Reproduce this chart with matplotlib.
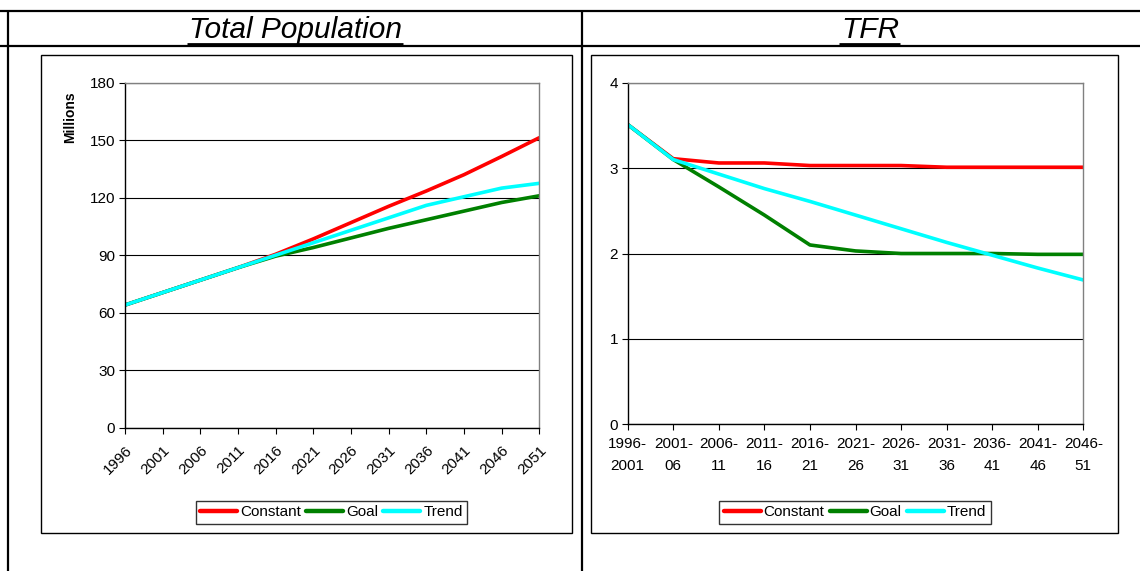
import numpy as np
import matplotlib
matplotlib.use("Agg")
import matplotlib.pyplot as plt
from matplotlib.lines import Line2D
from matplotlib.patches import Rectangle

plt.rcParams['font.family'] = ['Liberation Sans', 'DejaVu Sans']

# --- data ---
years = [1996, 2001, 2006, 2011, 2016, 2021, 2026, 2031, 2036, 2041, 2046, 2051]
pop_constant = [64, 70.5, 77, 83.5, 90.5, 98.5, 107, 115.5, 123.5, 132, 141.5, 151.3]
pop_goal = [64, 70.5, 77, 83.5, 89.5, 94, 99, 104, 108.5, 113, 117.5, 121]
pop_trend = [64, 70.5, 77, 83.5, 90, 96.5, 103, 109.5, 116, 120.5, 125, 127.5]

periods = ['1996-\n2001', '2001-\n06', '2006-\n11', '2011-\n16', '2016-\n21', '2021-\n26',
           '2026-\n31', '2031-\n36', '2036-\n41', '2041-\n46', '2046-\n51']
tfr_constant = [3.51, 3.11, 3.06, 3.06, 3.03, 3.03, 3.03, 3.01, 3.01, 3.01, 3.01]
tfr_goal = [3.51, 3.10, 2.78, 2.45, 2.10, 2.03, 2.00, 2.00, 2.00, 1.99, 1.99]
tfr_trend = [3.51, 3.10, 2.93, 2.76, 2.61, 2.45, 2.29, 2.13, 1.98, 1.83, 1.69]

series = ['Constant', 'Goal', 'Trend']
colors = ['#FF0000', '#008000', '#00FFFF']

W, H = 1140, 571
fig = plt.figure(figsize=(W / 100, H / 100), dpi=100)


def px_axes(l, t, r, b):
    return fig.add_axes([l / W, 1 - b / H, (r - l) / W, (b - t) / H])


def fline(x0, y0, x1, y1, lw=2.0, color='black'):
    fig.add_artist(Line2D([x0 / W, x1 / W], [1 - y0 / H, 1 - y1 / H],
                          transform=fig.transFigure, color=color, lw=lw,
                          solid_capstyle='butt'))


def style_axes(ax):
    ax.set_facecolor('white')
    for s in ['top', 'right']:
        ax.spines[s].set_color('#808080')
        ax.spines[s].set_linewidth(1.0)
    for s in ['left', 'bottom']:
        ax.spines[s].set_color('black')
        ax.spines[s].set_linewidth(1.0)
    ax.yaxis.grid(True, color='black', lw=0.8)
    ax.set_axisbelow(True)
    ax.tick_params(axis='both', length=4, width=0.8, color='black',
                   labelsize=11, pad=3)


def add_legend(ax, cx):
    leg = ax.legend(loc='center', bbox_to_anchor=(cx / W, 1 - 512.5 / H),
                    bbox_transform=fig.transFigure, ncol=3, fontsize=11,
                    frameon=True, fancybox=False, handlelength=2.4,
                    handletextpad=0.2, columnspacing=0.35, borderpad=0.3,
                    borderaxespad=0)
    leg.get_frame().set_edgecolor('black')
    leg.get_frame().set_linewidth(1.0)
    for h in leg.get_lines():
        h.set_linewidth(3.2)
    return leg


# --- table frame ---
fline(0, 11, W, 11, lw=1.6)
fline(0, 46, W, 46, lw=1.6)
fline(8, 10, 8, H, lw=1.6)
fline(582.3, 10, 582.3, H, lw=1.6)

# chart boxes
for (l, t, r, b) in [(41, 54.7, 571.7, 533.3), (591, 54.7, 1118.3, 533.3)]:
    fig.add_artist(Rectangle((l / W, 1 - b / H), (r - l) / W, (b - t) / H,
                             transform=fig.transFigure, fill=False,
                             edgecolor='black', lw=1.0))

# --- left: total population ---
ax1 = px_axes(125, 82.7, 539.3, 427.7)
style_axes(ax1)
x1 = np.arange(len(years))
for vals, name, c in zip([pop_constant, pop_goal, pop_trend], series, colors):
    ax1.plot(x1, vals, color=c, lw=2.6, label=name, solid_capstyle='round')
ax1.set_xlim(0, len(years) - 1)
ax1.set_ylim(0, 180)
ax1.set_yticks(np.arange(0, 181, 30))
ax1.set_xticks(x1)
ax1.set_xticklabels([str(y) for y in years], rotation=45, ha='right',
                    va='top', rotation_mode='anchor')
ax1.tick_params(axis='x', pad=7)
ax1.set_ylabel('Millions', fontsize=10, fontweight='bold')
ax1.yaxis.set_label_coords(-0.115, 0.9)
add_legend(ax1, 331.5)

# --- right: TFR ---
ax2 = px_axes(627.7, 82.7, 1083.3, 424.3)
style_axes(ax2)
x2 = np.arange(len(periods))
for vals, name, c in zip([tfr_constant, tfr_goal, tfr_trend], series, colors):
    ax2.plot(x2, vals, color=c, lw=2.6, label=name, solid_capstyle='round')
ax2.set_xlim(0, len(periods) - 1)
ax2.set_ylim(0, 4)
ax2.set_yticks(np.arange(0, 5, 1))
ax2.set_xticks(x2)
ax2.set_xticklabels(periods, ha='center', linespacing=1.7)
ax2.tick_params(axis='x', pad=5)
add_legend(ax2, 855)

# --- headers (italic, underlined) ---
headers = [('Total Population', 295.2), ('TFR', 870.0)]
hdr_texts = []
for label, cx in headers:
    t = fig.text(cx / W, 1 - 38 / H, label, ha='center', va='baseline',
                 fontsize=21.5, fontstyle='italic')
    hdr_texts.append(t)

fig.canvas.draw()
renderer = fig.canvas.get_renderer()
for t in hdr_texts:
    bb = t.get_window_extent(renderer)
    fline(bb.x0 - 2, 43.8, bb.x1 + 1, 43.8, lw=2.0)

fig.savefig('out.png', dpi=100, facecolor='white')
